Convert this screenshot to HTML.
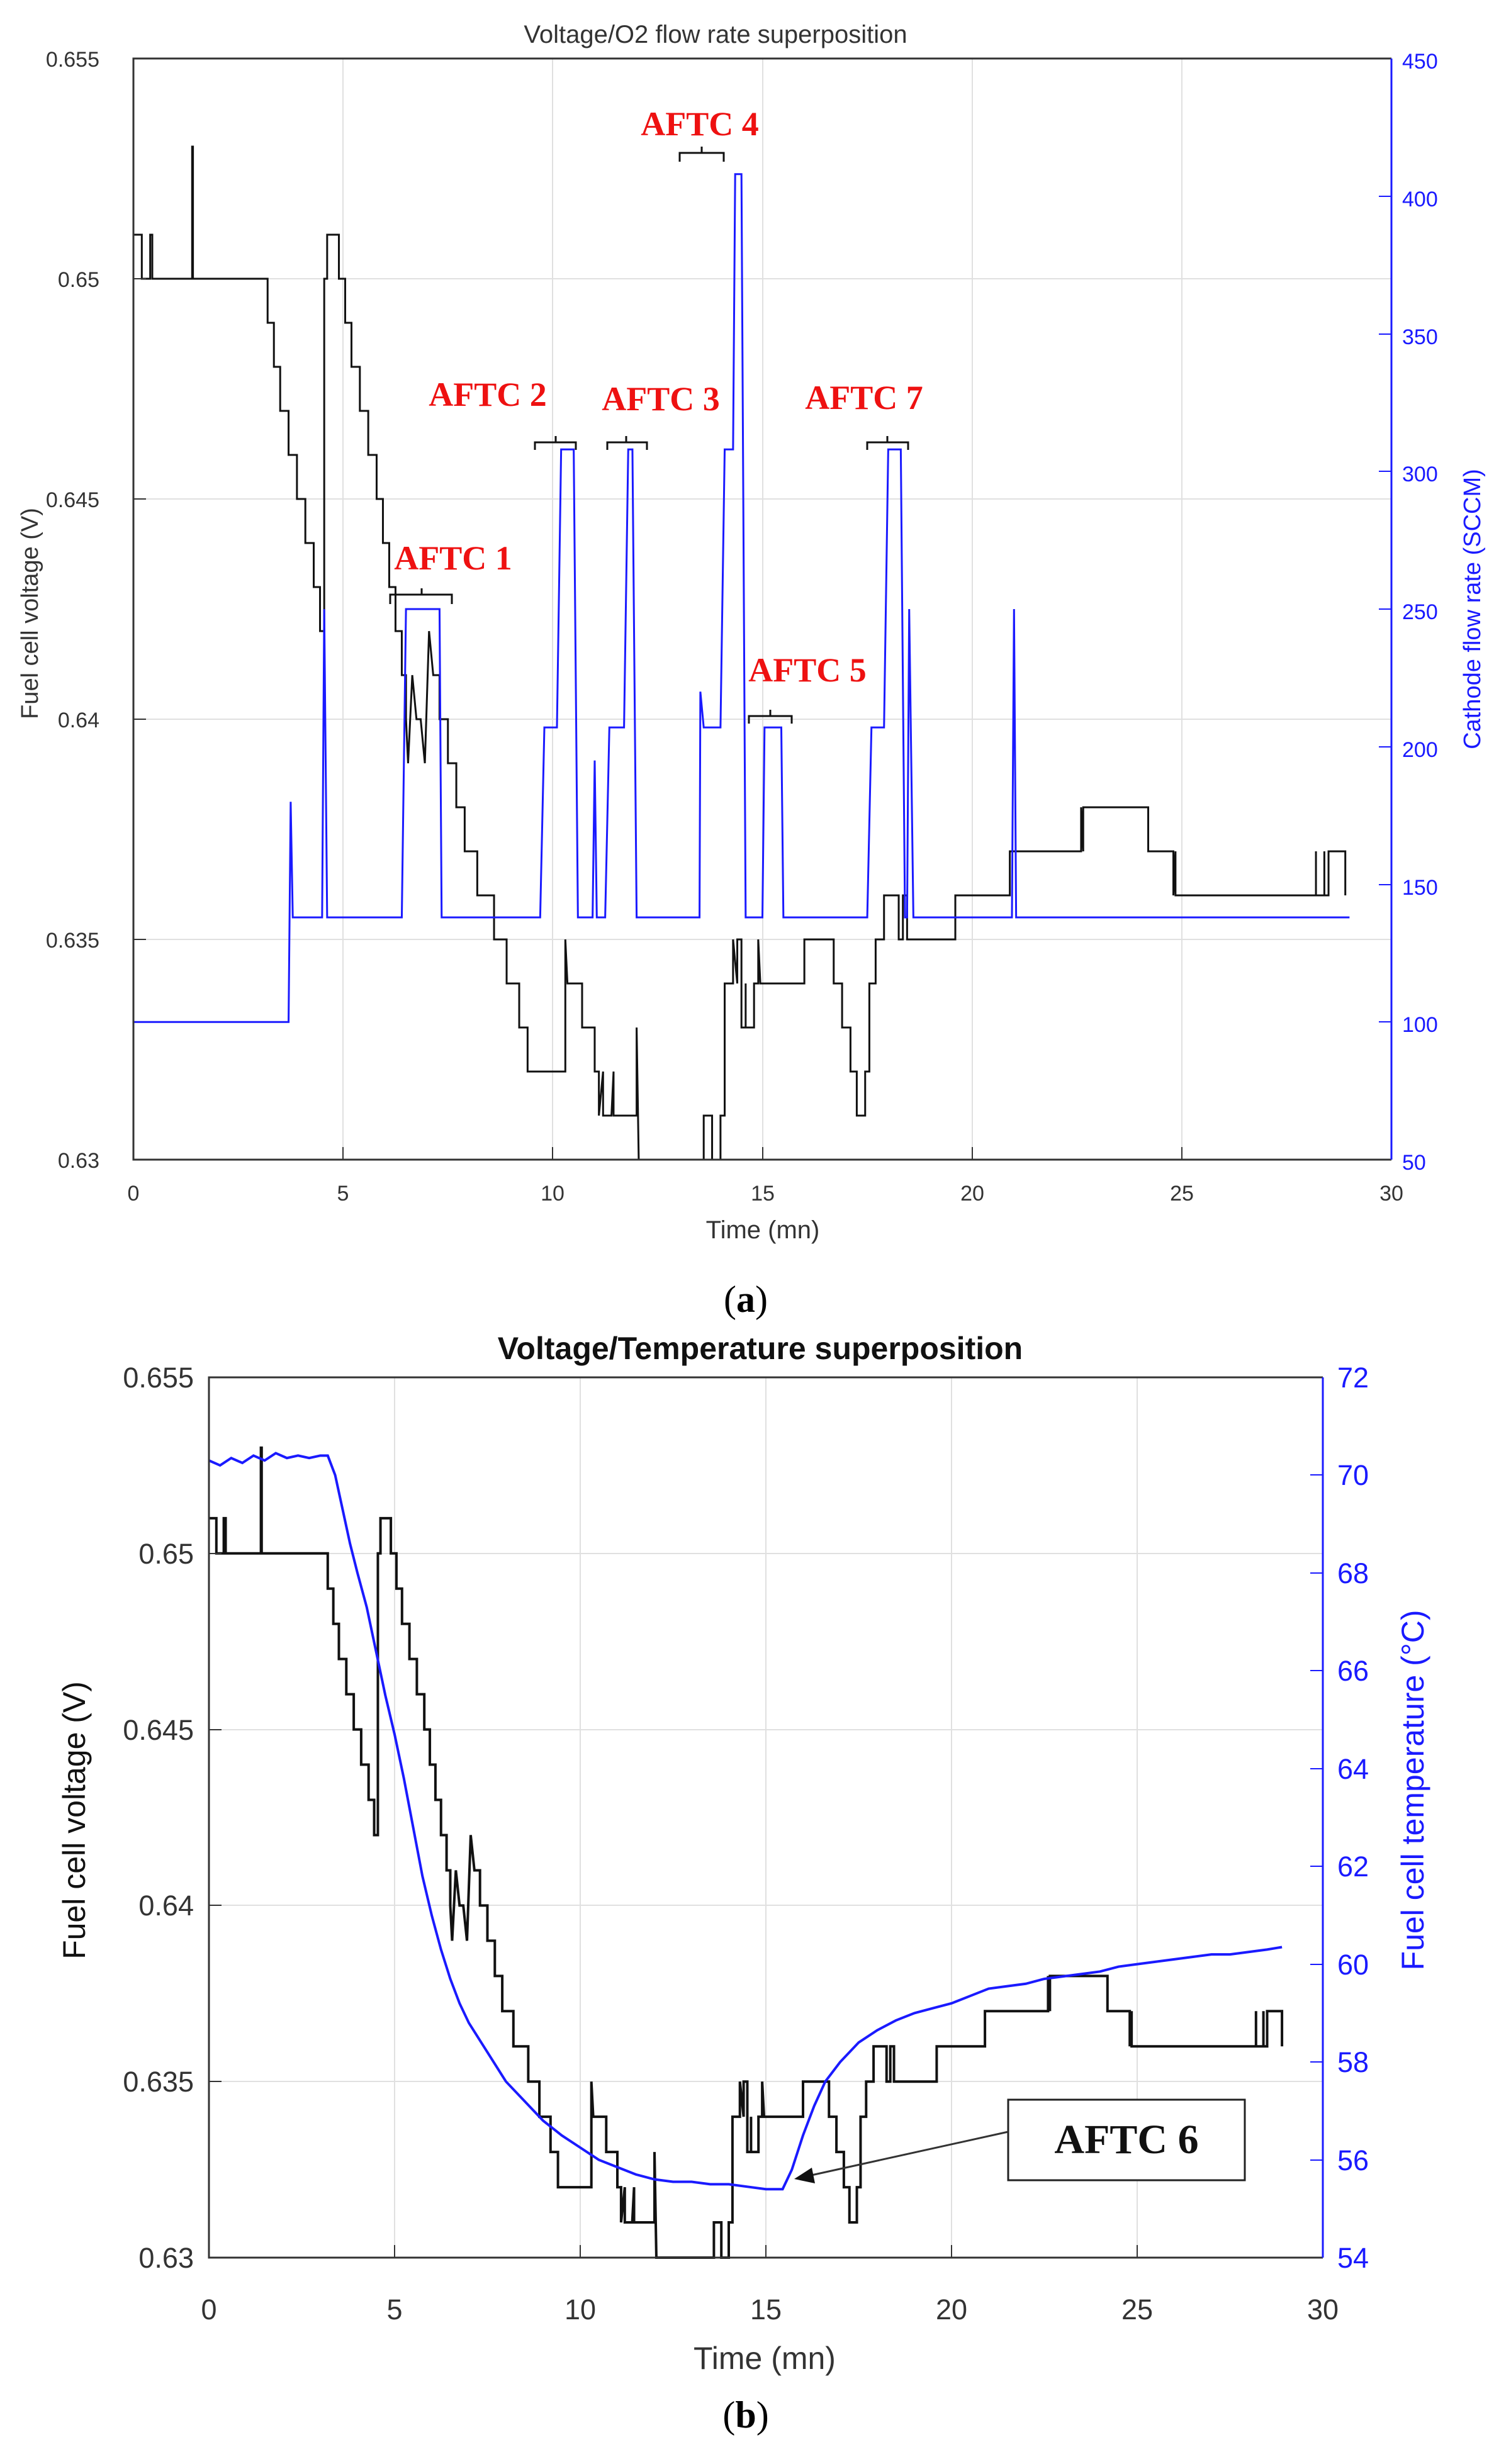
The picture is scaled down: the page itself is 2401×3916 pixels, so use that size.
<!DOCTYPE html>
<html><head><meta charset="utf-8"><style>
html,body{margin:0;padding:0;background:#fff;}
svg{display:block}
</style></head><body>
<svg width="2401" height="3916" xmlns="http://www.w3.org/2000/svg" font-family="Liberation Sans, sans-serif">
<rect width="2401" height="3916" fill="#fff"/>
<!-- ================= PLOT A ================= -->
<g stroke="#e0e0e0" stroke-width="2">
<line x1="545" y1="93" x2="545" y2="1843"/><line x1="878" y1="93" x2="878" y2="1843"/><line x1="1212" y1="93" x2="1212" y2="1843"/><line x1="1545" y1="93" x2="1545" y2="1843"/><line x1="1878" y1="93" x2="1878" y2="1843"/>
<line x1="212" y1="443" x2="2211" y2="443"/><line x1="212" y1="793" x2="2211" y2="793"/><line x1="212" y1="1143" x2="2211" y2="1143"/><line x1="212" y1="1493" x2="2211" y2="1493"/>
</g>
<svg x="212" y="93" width="1999" height="1750" viewBox="0 0 30 25" preserveAspectRatio="none" overflow="visible">
<g transform="translate(0,25) scale(1,-1)" fill="none" stroke-linejoin="miter">
<path vector-effect="non-scaling-stroke" stroke="#111" stroke-width="3" d="M0 21 H0.2 V20 H0.4 V21 H0.45 V20 H1.4 V23 H1.42 V20 H3.2 V19 H3.35 V18 H3.5 V17 H3.7 V16 H3.9 V15 H4.1 V14 H4.3 V13 H4.45 V12 H4.55 V20 H4.62 V21 H4.9 V20 H5.05 V19 H5.2 V18 H5.4 V17 H5.6 V16 H5.8 V15 H5.95 V14 H6.1 V13 H6.25 V12 H6.4 V11 H6.5 V10 L6.55 9 L6.65 11 L6.75 10 H6.85 L6.95 9 L7.05 12 L7.15 11 H7.3 V10 H7.5 V9 H7.7 V8 H7.9 V7 H8.2 V6 H8.6 V5 H8.9 V4 H9.2 V3 H9.4 V2 H10.3 V5 L10.35 4 H10.7 V3 H11.0 V2 H11.1 V1 L11.2 2 V1 H11.4 L11.45 2 V1 H12.0 V3 L12.05 0 H13.6 V1 H13.8 V0 H14.0 V1 H14.1 V4 H14.3 V5 L14.4 4 V5 H14.5 V3 H14.6 V4 V3 H14.8 V4 H14.9 V5 L14.95 4 H16.0 V5 H16.7 V4 H16.9 V3 H17.1 V2 H17.25 V1 H17.45 V2 H17.55 V4 H17.7 V5 H17.9 V6 H18.25 V5 H18.35 V6 H18.45 V5 H19.6 V6 H20.9 V7 H22.6 V8 L22.65 7 V8 H24.2 V7 H24.8 V6 L24.85 7 V6 H28.2 V7 V6 H28.4 V7 V6 H28.5 V7 H28.9 V6"/>
</g></svg>
<svg x="212" y="93" width="1999" height="1750" viewBox="0 50 30 400" preserveAspectRatio="none" overflow="visible">
<g transform="translate(0,500) scale(1,-1)" fill="none">
<path vector-effect="non-scaling-stroke" stroke="#1a1aff" stroke-width="3" d="M0 100 H3.7 L3.75 180 L3.8 138 H4.5 L4.55 250 L4.62 138 H6.4 L6.5 250 H7.3 L7.35 138 H9.7 L9.8 207 H10.1 L10.2 308 H10.5 L10.6 138 H10.95 L11.0 195 L11.05 138 H11.25 L11.35 207 H11.7 L11.8 308 H11.9 L12.0 138 H13.5 L13.52 220 L13.6 207 H14.0 L14.1 308 H14.3 L14.35 408 H14.5 L14.6 138 H15.0 L15.05 207 H15.45 L15.5 138 H17.5 L17.6 207 H17.9 L18.0 308 H18.3 L18.4 138 H18.45 L18.5 250 L18.6 138 H20.95 L21.0 250 L21.05 138 H29"/>
</g></svg>
<g fill="none" stroke-width="3">
<path d="M2211 93 H212 V1843 H2211" stroke="#333"/>
<line x1="2211" y1="93" x2="2211" y2="1843" stroke="#1a1aff"/>
</g>
<g stroke="#333" stroke-width="2">
<line x1="212" y1="443" x2="232" y2="443"/><line x1="212" y1="793" x2="232" y2="793"/><line x1="212" y1="1143" x2="232" y2="1143"/><line x1="212" y1="1493" x2="232" y2="1493"/>
<line x1="545" y1="1843" x2="545" y2="1823"/><line x1="878" y1="1843" x2="878" y2="1823"/><line x1="1212" y1="1843" x2="1212" y2="1823"/><line x1="1545" y1="1843" x2="1545" y2="1823"/><line x1="1878" y1="1843" x2="1878" y2="1823"/>
</g>
<g stroke="#1a1aff" stroke-width="2">
<line x1="2211" y1="312" x2="2191" y2="312"/><line x1="2211" y1="531" x2="2191" y2="531"/><line x1="2211" y1="749" x2="2191" y2="749"/><line x1="2211" y1="968" x2="2191" y2="968"/><line x1="2211" y1="1187" x2="2191" y2="1187"/><line x1="2211" y1="1406" x2="2191" y2="1406"/><line x1="2211" y1="1624" x2="2191" y2="1624"/>
</g>
<g font-size="34" fill="#333" text-anchor="end">
<text x="158" y="106">0.655</text><text x="158" y="456">0.65</text><text x="158" y="806">0.645</text><text x="158" y="1156">0.64</text><text x="158" y="1506">0.635</text><text x="158" y="1856">0.63</text>
</g>
<g font-size="34" fill="#333" text-anchor="middle">
<text x="212" y="1908">0</text><text x="545" y="1908">5</text><text x="878" y="1908">10</text><text x="1212" y="1908">15</text><text x="1545" y="1908">20</text><text x="1878" y="1908">25</text><text x="2211" y="1908">30</text>
<text x="1212" y="1968" font-size="40">Time (mn)</text>
<text x="1137" y="68" font-size="40">Voltage/O2 flow rate superposition</text>
</g>
<g font-size="34" fill="#1a1aff">
<text x="2228" y="109">450</text><text x="2228" y="328">400</text><text x="2228" y="547">350</text><text x="2228" y="765">300</text><text x="2228" y="984">250</text><text x="2228" y="1203">200</text><text x="2228" y="1422">150</text><text x="2228" y="1640">100</text><text x="2228" y="1859">50</text>
</g>
<text transform="translate(60,975) rotate(-90)" font-size="38" fill="#333" text-anchor="middle">Fuel cell voltage (V)</text>
<text transform="translate(2352,968) rotate(-90)" font-size="38" fill="#1a1aff" text-anchor="middle">Cathode flow rate (SCCM)</text>
<g font-family="Liberation Serif, serif" font-weight="bold" font-size="54" fill="#ee1111" text-anchor="middle">
<text x="720" y="905">AFTC 1</text><text x="775" y="645">AFTC 2</text><text x="1050" y="652">AFTC 3</text><text x="1112" y="215">AFTC 4</text><text x="1283" y="1083">AFTC 5</text><text x="1373" y="650">AFTC 7</text>
</g>
<g fill="none" stroke="#111" stroke-width="3">
<path d="M620 960 V945 H670 V935 V945 H718 V960"/>
<path d="M850 715 V703 H883 V693 V703 H915 V715"/>
<path d="M965 715 V703 H995 V693 V703 H1028 V715"/>
<path d="M1080 257 V243 H1115 V233 V243 H1150 V257"/>
<path d="M1190 1150 V1138 H1224 V1128 V1138 H1258 V1150"/>
<path d="M1378 715 V703 H1410 V693 V703 H1443 V715"/>
</g>
<text x="1185" y="2085" font-family="Liberation Serif, serif" font-size="60" text-anchor="middle" fill="#000">(<tspan font-weight="bold">a</tspan>)</text>

<!-- ================= PLOT B ================= -->
<g stroke="#e0e0e0" stroke-width="2">
<line x1="627" y1="2189" x2="627" y2="3588"/><line x1="922" y1="2189" x2="922" y2="3588"/><line x1="1217" y1="2189" x2="1217" y2="3588"/><line x1="1512" y1="2189" x2="1512" y2="3588"/><line x1="1807" y1="2189" x2="1807" y2="3588"/>
<line x1="332" y1="2469" x2="2102" y2="2469"/><line x1="332" y1="2749" x2="2102" y2="2749"/><line x1="332" y1="3028" x2="2102" y2="3028"/><line x1="332" y1="3308" x2="2102" y2="3308"/>
</g>
<svg x="332" y="2189" width="1770" height="1399" viewBox="0 0 30 25" preserveAspectRatio="none" overflow="visible">
<g transform="translate(0,25) scale(1,-1)" fill="none">
<path vector-effect="non-scaling-stroke" stroke="#111" stroke-width="4" d="M0 21 H0.2 V20 H0.4 V21 H0.45 V20 H1.4 V23 H1.42 V20 H3.2 V19 H3.35 V18 H3.5 V17 H3.7 V16 H3.9 V15 H4.1 V14 H4.3 V13 H4.45 V12 H4.55 V20 H4.62 V21 H4.9 V20 H5.05 V19 H5.2 V18 H5.4 V17 H5.6 V16 H5.8 V15 H5.95 V14 H6.1 V13 H6.25 V12 H6.4 V11 H6.5 V10 L6.55 9 L6.65 11 L6.75 10 H6.85 L6.95 9 L7.05 12 L7.15 11 H7.3 V10 H7.5 V9 H7.7 V8 H7.9 V7 H8.2 V6 H8.6 V5 H8.9 V4 H9.2 V3 H9.4 V2 H10.3 V5 L10.35 4 H10.7 V3 H11.0 V2 H11.1 V1 L11.2 2 V1 H11.4 L11.45 2 V1 H12.0 V3 L12.05 0 H13.6 V1 H13.8 V0 H14.0 V1 H14.1 V4 H14.3 V5 L14.4 4 V5 H14.5 V3 H14.6 V4 V3 H14.8 V4 H14.9 V5 L14.95 4 H16.0 V5 H16.7 V4 H16.9 V3 H17.1 V2 H17.25 V1 H17.45 V2 H17.55 V4 H17.7 V5 H17.9 V6 H18.25 V5 H18.35 V6 H18.45 V5 H19.6 V6 H20.9 V7 H22.6 V8 L22.65 7 V8 H24.2 V7 H24.8 V6 L24.85 7 V6 H28.2 V7 V6 H28.4 V7 V6 H28.5 V7 H28.9 V6"/>
</g></svg>
<svg x="332" y="2189" width="1770" height="1399" viewBox="0 54 30 18" preserveAspectRatio="none" overflow="visible">
<g transform="translate(0,126) scale(1,-1)" fill="none">
<path vector-effect="non-scaling-stroke" stroke="#1a1aff" stroke-width="4" d="M0 70.3 L0.3 70.2 L0.6 70.35 L0.9 70.25 L1.2 70.4 L1.5 70.3 L1.8 70.45 L2.1 70.35 L2.4 70.4 L2.7 70.35 L3.0 70.4 L3.2 70.4 L3.4 70.0 L3.6 69.3 L3.8 68.6 L4.0 68.0 L4.25 67.3 L4.5 66.4 L4.75 65.5 L5.0 64.7 L5.25 63.8 L5.5 62.8 L5.75 61.8 L6.0 61.0 L6.25 60.3 L6.5 59.7 L6.75 59.2 L7.0 58.8 L7.5 58.2 L8.0 57.6 L8.5 57.2 L9.0 56.8 L9.5 56.5 L10.0 56.25 L10.5 56.0 L11.0 55.85 L11.5 55.7 L12.0 55.6 L12.5 55.55 L13.0 55.55 L13.5 55.5 L14.0 55.5 L14.5 55.45 L15.0 55.4 L15.45 55.4 L15.7 55.8 L16.0 56.5 L16.3 57.1 L16.6 57.6 L17.0 58.0 L17.5 58.4 L18.0 58.65 L18.5 58.85 L19.0 59.0 L19.5 59.1 L20.0 59.2 L20.5 59.35 L21.0 59.5 L21.5 59.55 L22.0 59.6 L22.5 59.7 L23.0 59.75 L23.5 59.8 L24.0 59.85 L24.5 59.95 L25.0 60.0 L25.5 60.05 L26.0 60.1 L26.5 60.15 L27.0 60.2 L27.5 60.2 L28.0 60.25 L28.5 60.3 L28.9 60.35"/>
</g></svg>
<g fill="none" stroke-width="3">
<path d="M2102 2189 H332 V3588 H2102" stroke="#333"/>
<line x1="2102" y1="2189" x2="2102" y2="3588" stroke="#1a1aff"/>
</g>
<g stroke="#333" stroke-width="2">
<line x1="332" y1="2469" x2="352" y2="2469"/><line x1="332" y1="2749" x2="352" y2="2749"/><line x1="332" y1="3028" x2="352" y2="3028"/><line x1="332" y1="3308" x2="352" y2="3308"/>
<line x1="627" y1="3588" x2="627" y2="3568"/><line x1="922" y1="3588" x2="922" y2="3568"/><line x1="1217" y1="3588" x2="1217" y2="3568"/><line x1="1512" y1="3588" x2="1512" y2="3568"/><line x1="1807" y1="3588" x2="1807" y2="3568"/>
</g>
<g stroke="#1a1aff" stroke-width="2">
<line x1="2102" y1="2344" x2="2082" y2="2344"/><line x1="2102" y1="2500" x2="2082" y2="2500"/><line x1="2102" y1="2655" x2="2082" y2="2655"/><line x1="2102" y1="2811" x2="2082" y2="2811"/><line x1="2102" y1="2966" x2="2082" y2="2966"/><line x1="2102" y1="3122" x2="2082" y2="3122"/><line x1="2102" y1="3277" x2="2082" y2="3277"/><line x1="2102" y1="3433" x2="2082" y2="3433"/>
</g>
<g font-size="45" fill="#333" text-anchor="end">
<text x="308" y="2205">0.655</text><text x="308" y="2485">0.65</text><text x="308" y="2765">0.645</text><text x="308" y="3044">0.64</text><text x="308" y="3324">0.635</text><text x="308" y="3604">0.63</text>
</g>
<g font-size="45" fill="#333" text-anchor="middle">
<text x="332" y="3686">0</text><text x="627" y="3686">5</text><text x="922" y="3686">10</text><text x="1217" y="3686">15</text><text x="1512" y="3686">20</text><text x="1807" y="3686">25</text><text x="2102" y="3686">30</text>
<text x="1215" y="3765" font-size="50">Time (mn)</text>
<text x="1208" y="2160" font-size="50" font-weight="bold" fill="#111">Voltage/Temperature superposition</text>
</g>
<g font-size="45" fill="#1a1aff">
<text x="2125" y="2205">72</text><text x="2125" y="2360">70</text><text x="2125" y="2516">68</text><text x="2125" y="2671">66</text><text x="2125" y="2827">64</text><text x="2125" y="2982">62</text><text x="2125" y="3138">60</text><text x="2125" y="3293">58</text><text x="2125" y="3449">56</text><text x="2125" y="3604">54</text>
</g>
<text transform="translate(135,2893) rotate(-90)" font-size="50" fill="#111" text-anchor="middle">Fuel cell voltage (V)</text>
<text transform="translate(2262,2845) rotate(-90)" font-size="50" fill="#1a1aff" text-anchor="middle">Fuel cell temperature (°C)</text>
<rect x="1602" y="3337" width="376" height="128" fill="#fff" stroke="#222" stroke-width="3"/>
<text x="1790" y="3422" font-family="Liberation Serif, serif" font-weight="bold" font-size="66" text-anchor="middle" fill="#111">AFTC 6</text>
<line x1="1602" y1="3388" x2="1285" y2="3458" stroke="#333" stroke-width="3"/>
<polygon points="1262,3463 1290,3445 1295,3470" fill="#111"/>
<text x="1185" y="3858" font-family="Liberation Serif, serif" font-size="60" text-anchor="middle" fill="#000">(<tspan font-weight="bold">b</tspan>)</text>
</svg>
</body></html>
